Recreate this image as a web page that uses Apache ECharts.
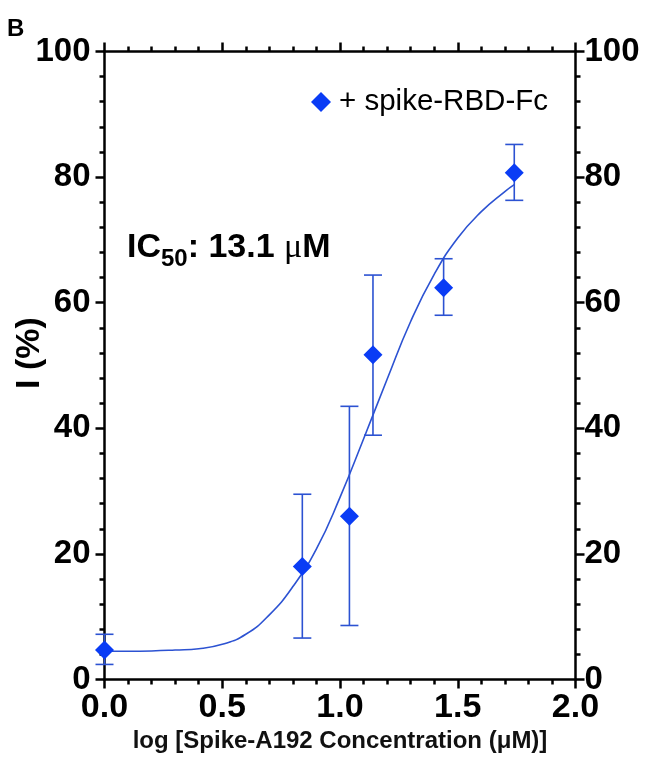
<!DOCTYPE html>
<html>
<head>
<meta charset="utf-8">
<script src="https://cdn.jsdelivr.net/npm/echarts@6/dist/echarts.min.js"></script>
<style>
  html, body { margin: 0; padding: 0; background: #fff; }
  #chart { width: 658px; height: 780px; }
</style>
</head>
<body>
<div id="chart"></div>
<script>
// measured points: log concentration, mean inhibition, error bar ends
const logConc = [0, 0.84, 1.04, 1.14, 1.44, 1.74]
const inhibition = [4.7, 18.0, 26.0, 51.7, 62.4, 80.7]
const errLow = [2.4, 6.6, 8.6, 38.9, 58.0, 76.3]
const errHigh = [7.2, 29.5, 43.5, 64.4, 67.0, 85.2]

// fitted curve
const fitX = [0, 0.1, 0.2, 0.3, 0.4, 0.5, 0.6, 0.7, 0.8, 0.9, 1.0, 1.1, 1.2, 1.3, 1.4, 1.5, 1.6, 1.7, 1.74]
const fitY = [4.5, 4.5, 4.55, 4.7, 4.9, 5.6, 7.2, 10.3, 14.8, 20.8, 29.0, 38.3, 47.8, 57.0, 64.5, 70.3, 74.5, 77.7, 78.8]

const xTicks = [0, 0.5, 1.0, 1.5, 2.0]
const yTicks = [0, 20, 40, 60, 80, 100]

const seriesName = '+ spike-RBD-Fc'
const markColor = '#0a3cf5'
const lineColor = '#2c52d2'
const font = '"Liberation Sans", Arial, sans-serif'

let chart = echarts.init(document.getElementById('chart'))

function axisBase(extra) {
    let base = {
        axisLine: { show: true, onZero: false, lineStyle: { color: '#000', width: 2.5 } },
        axisTick: { show: true, length: 9, lineStyle: { color: '#000', width: 2.5 } },
        minorTick: { show: true, splitNumber: 5, length: 5, lineStyle: { color: '#000', width: 2.5 } },
        splitLine: { show: false },
        minorSplitLine: { show: false }
    }
    return Object.assign(base, extra)
}

function xAxisOf(position, showLabel) {
    return axisBase({
        type: 'value',
        position: position,
        min: xTicks[0],
        max: xTicks[xTicks.length - 1],
        interval: 0.5,
        name: showLabel ? 'log [Spike-A192 Concentration (μM)]' : '',
        nameLocation: 'middle',
        nameGap: 45,
        nameTextStyle: { fontFamily: font, fontWeight: 'bold', fontSize: 24, color: '#111' },
        axisLabel: {
            show: showLabel,
            margin: 11,
            fontFamily: font,
            fontWeight: 'bold',
            fontSize: 34,
            color: '#000',
            formatter: v => v.toFixed(1)
        }
    })
}

function yAxisOf(position, margin) {
    return axisBase({
        type: 'value',
        position: position,
        min: yTicks[0],
        max: yTicks[yTicks.length - 1],
        interval: 20,
        axisLabel: {
            margin: margin,
            fontFamily: font,
            fontWeight: 'bold',
            fontSize: 33,
            color: '#000'
        }
    })
}

// error bars with caps
function renderErrorBar(params, api) {
    let x = api.value(0)
    let top = api.coord([x, api.value(2)])
    let bottom = api.coord([x, api.value(1)])
    let half = 9
    let style = { stroke: lineColor, lineWidth: 1.6 }
    return {
        type: 'group',
        children: [
            { type: 'line', shape: { x1: top[0], y1: top[1], x2: bottom[0], y2: bottom[1] }, style: style },
            { type: 'line', shape: { x1: top[0] - half, y1: top[1], x2: top[0] + half, y2: top[1] }, style: style },
            { type: 'line', shape: { x1: bottom[0] - half, y1: bottom[1], x2: bottom[0] + half, y2: bottom[1] }, style: style }
        ]
    }
}

chart.setOption({
    animation: false,
    backgroundColor: '#fff',
    grid: { left: 104.5, right: 82.5, top: 51.5, bottom: 100.5, containLabel: false },
    legend: {
        data: [seriesName],
        left: 306,
        top: 82,
        itemWidth: 20,
        itemHeight: 20,
        textStyle: { fontFamily: font, fontSize: 29.5, color: '#000', padding: [0, 0, 0, 3] }
    },
    xAxis: [xAxisOf('bottom', true), xAxisOf('top', false)],
    yAxis: [yAxisOf('left', 14), yAxisOf('right', 9)],
    graphic: [
        {
            type: 'text', left: 7, top: 17,
            style: { text: 'B', fontFamily: font, fontWeight: 'bold', fontSize: 24, fill: '#000' }
        },
        {
            type: 'text', x: 30, y: 353, rotation: Math.PI / 2,
            style: {
                text: 'I (%)', fontFamily: font, fontWeight: 'bold', fontSize: 34, fill: '#000',
                textAlign: 'center', textVerticalAlign: 'middle'
            }
        },
        {
            type: 'text', x: 127, y: 248,
            style: {
                text: '{m|IC}{s|50}{m|: 13.1 }{u|μ}{m|M}',
                textVerticalAlign: 'middle',
                rich: {
                    m: { fontFamily: font, fontWeight: 'bold', fontSize: 34, fill: '#000', lineHeight: 46, verticalAlign: 'middle' },
                    s: { fontFamily: font, fontWeight: 'bold', fontSize: 24, fill: '#000', lineHeight: 22, verticalAlign: 'bottom' },
                    u: { fontFamily: '"Liberation Serif", serif', fontSize: 34, fill: '#000', lineHeight: 46, verticalAlign: 'middle' }
                }
            }
        }
    ],
    series: [
        {
            type: 'line',
            data: fitX.map((x, i) => [x, fitY[i]]),
            smooth: true,
            showSymbol: false,
            symbol: 'none',
            clip: false,
            lineStyle: { color: lineColor, width: 1.6 },
            z: 2
        },
        {
            type: 'custom',
            renderItem: renderErrorBar,
            encode: { x: 0, y: [1, 2] },
            data: logConc.map((x, i) => [x, errLow[i], errHigh[i]]),
            clip: false,
            z: 3
        },
        {
            name: seriesName,
            type: 'scatter',
            symbol: 'diamond',
            symbolSize: 19,
            data: logConc.map((x, i) => [x, inhibition[i]]),
            itemStyle: { color: markColor, opacity: 1 },
            clip: false,
            z: 4
        }
    ]
})
</script>
</body>
</html>
